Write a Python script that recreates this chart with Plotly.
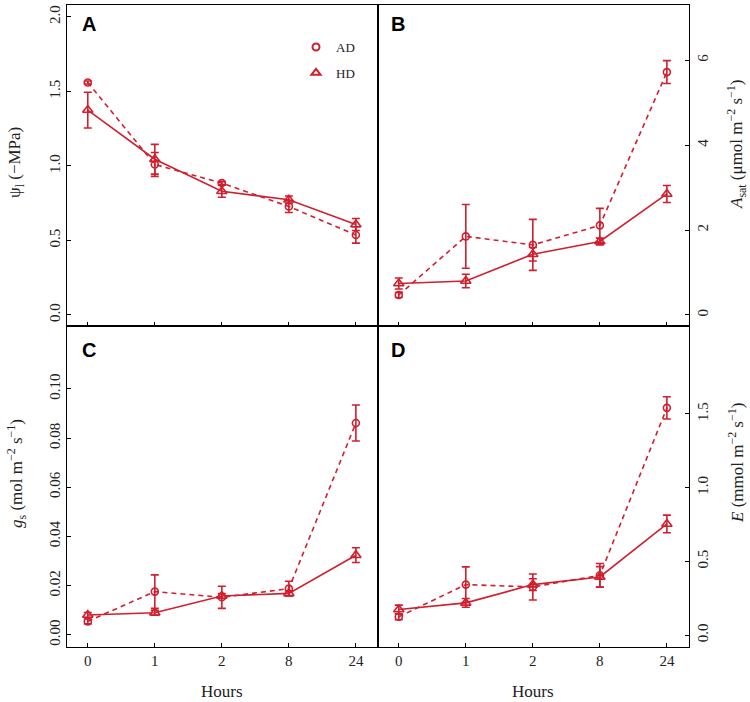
import plotly.graph_objects as go
from plotly.subplots import make_subplots

hours = ["0", "1", "2", "8", "24"]

psi_AD = [1.56, 1.01, 0.885, 0.728, 0.537]
psi_AD_err = [0.01, 0.08, 0.01, 0.04, 0.055]
psi_HD = [1.375, 1.045, 0.83, 0.773, 0.607]
psi_HD_err = [0.12, 0.10, 0.04, 0.025, 0.04]

asat_AD = [0.47, 1.85, 1.65, 2.11, 5.72]
asat_AD_err = [0.06, 0.75, 0.60, 0.40, 0.27]
asat_HD = [0.74, 0.80, 1.43, 1.73, 2.85]
asat_HD_err = [0.13, 0.16, 0.16, 0.08, 0.20]

gs_AD = [0.0055, 0.0176, 0.0153, 0.0188, 0.0861]
gs_AD_err = [0.001, 0.0068, 0.0045, 0.003, 0.0073]
gs_HD = [0.0081, 0.009, 0.0158, 0.0169, 0.0324]
gs_HD_err = [0.001, 0.001, 0.001, 0.001, 0.003]

E_AD = [0.124, 0.342, 0.326, 0.405, 1.54]
E_AD_err = [0.02, 0.12, 0.088, 0.08, 0.075]
E_HD = [0.173, 0.218, 0.342, 0.394, 0.753]
E_HD_err = [0.03, 0.03, 0.04, 0.07, 0.06]

RED = "#D01F2E"
SERIF = "Liberation Serif"

fig = make_subplots(rows=2, cols=2, horizontal_spacing=0, vertical_spacing=0)

panels = [
    (1, 1, psi_AD, psi_AD_err, psi_HD, psi_HD_err),
    (1, 2, asat_AD, asat_AD_err, asat_HD, asat_HD_err),
    (2, 1, gs_AD, gs_AD_err, gs_HD, gs_HD_err),
    (2, 2, E_AD, E_AD_err, E_HD, E_HD_err),
]

for r, c, ad, ade, hd, hde in panels:
    fig.add_trace(go.Scatter(
        x=hours, y=hd, mode="lines+markers", showlegend=False,
        line=dict(color=RED, width=1.6),
        marker=dict(symbol="triangle-up-open", size=9, color=RED, line=dict(width=1.6, color=RED)),
        error_y=dict(type="data", array=hde, color=RED, thickness=1.6, width=4),
    ), row=r, col=c)
    fig.add_trace(go.Scatter(
        x=hours, y=ad, mode="lines+markers", showlegend=False,
        line=dict(color=RED, width=1.6, dash="5px,4px"),
        marker=dict(symbol="circle-open", size=7, color=RED, line=dict(width=1.6, color=RED)),
        error_y=dict(type="data", array=ade, color=RED, thickness=1.6, width=4),
    ), row=r, col=c)

# legend-only entries
fig.add_trace(go.Scatter(x=[None], y=[None], mode="markers", name="AD", legendgroup="ad",
                         marker=dict(symbol="circle-open", size=7, color=RED, line=dict(width=2, color=RED))),
              row=1, col=1)
fig.add_trace(go.Scatter(x=[None], y=[None], mode="markers", name="HD", legendgroup="hd",
                         marker=dict(symbol="triangle-up-open", size=8, color=RED, line=dict(width=2, color=RED))),
              row=1, col=1)

axis_common = dict(showline=True, mirror=True, linecolor="black", linewidth=1.2,
                   ticks="inside", ticklen=4, tickcolor="black", tickwidth=1,
                   showgrid=False, zeroline=False, automargin=False,
                   tickfont=dict(family=SERIF, size=15, color="#222"))

for r in (1, 2):
    for c in (1, 2):
        fig.update_xaxes(type="category", range=[-0.31, 4.33], showticklabels=(r == 2),
                         **axis_common, row=r, col=c)

fig.update_yaxes(range=[-0.074, 2.08], tickvals=[0, 0.5, 1.0, 1.5, 2.0], tickformat=".1f",
                 tickangle=-90, side="left", row=1, col=1, **axis_common)
fig.update_yaxes(range=[-0.26, 7.3], tickvals=[0, 2, 4, 6],
                 tickangle=-90, side="right", row=1, col=2, **axis_common)
fig.update_yaxes(range=[-0.0049, 0.1255], tickvals=[0, 0.02, 0.04, 0.06, 0.08, 0.10], tickformat=".2f",
                 tickangle=-90, side="left", row=2, col=1, **axis_common)
fig.update_yaxes(range=[-0.081, 2.095], tickvals=[0, 0.5, 1.0, 1.5], tickformat=".1f",
                 tickangle=-90, side="right", row=2, col=2, **axis_common)

W, H = 750, 702
L, R, T, B = 67, 61, 5, 55
PW, PH = W - L - R, H - T - B


def px(x):
    return (x - L) / PW


def py(y):
    return (H - B - y) / PH


ann = []
for letter, (x, y) in {"A": (89, 24), "B": (398, 24), "C": (89, 350), "D": (398, 350)}.items():
    ann.append(dict(text="<b>%s</b>" % letter, x=px(x), y=py(y), xref="paper", yref="paper",
                    showarrow=False, xanchor="center", yanchor="middle",
                    font=dict(family="Liberation Sans", size=20, color="black")))

titles = [
    ("ψ<sub>l</sub> (−MPa)", 16, 163),
    ("<i>A</i><sub>sat</sub> (μmol m<sup>−2</sup> s<sup>−1</sup>)", 736, 145),
    ("<i>g</i><sub>s</sub> (mol m<sup>−2</sup> s<sup>−1</sup>)", 16, 474),
    ("<i>E</i> (mmol m<sup>−2</sup> s<sup>−1</sup>)", 736, 463),
]
for t, x, y in titles:
    ann.append(dict(text=t, x=px(x), y=py(y), xref="paper", yref="paper", textangle=-90,
                    showarrow=False, xanchor="center", yanchor="middle",
                    font=dict(family=SERIF, size=17, color="#222")))
for x in (222, 533):
    ann.append(dict(text="Hours", x=px(x), y=py(691), xref="paper", yref="paper",
                    showarrow=False, xanchor="center", yanchor="middle",
                    font=dict(family=SERIF, size=17, color="#222")))

fig.update_layout(
    width=W, height=H,
    margin=dict(l=L, r=R, t=T, b=B, autoexpand=False),
    paper_bgcolor="white", plot_bgcolor="white",
    annotations=ann,
    showlegend=True,
    legend=dict(x=px(296), y=py(32), xanchor="left", yanchor="top",
                bgcolor="rgba(0,0,0,0)", font=dict(family=SERIF, size=13, color="#222"),
                tracegroupgap=6, itemwidth=30),
)

fig.write_html("out.html", config={"displayModeBar": False},
               post_script="document.body.style.margin='0';document.body.style.overflow='hidden';")
